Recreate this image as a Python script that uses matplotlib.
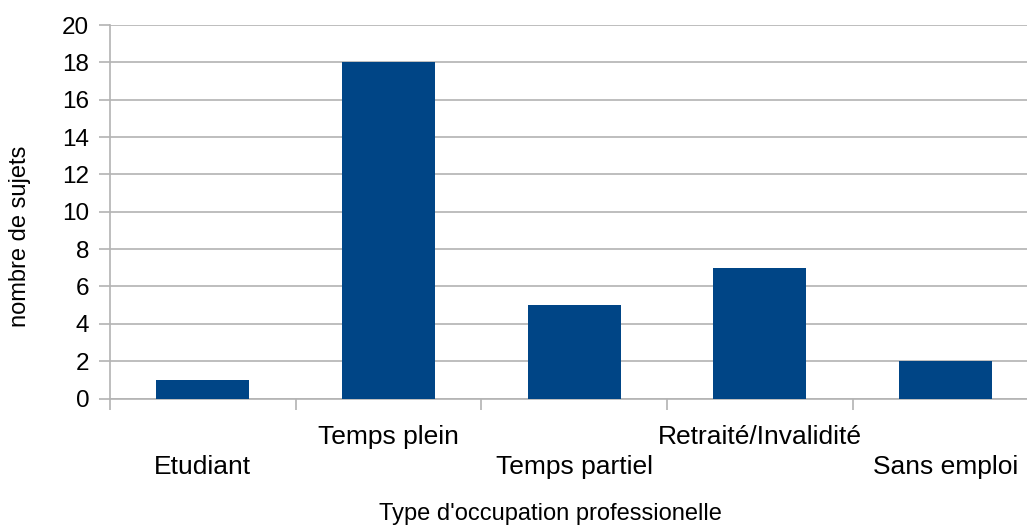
import matplotlib
matplotlib.use("Agg")
import matplotlib.pyplot as plt
import numpy as np

categories = ["Etudiant", "Temps plein", "Temps partiel", "Retraité/Invalidité", "Sans emploi"]
values = [1, 18, 5, 7, 2]
yticks = [0, 2, 4, 6, 8, 10, 12, 14, 16, 18, 20]

plt.rcParams['font.family'] = ['Liberation Sans', 'DejaVu Sans']

W, H = 1027, 525
fig = plt.figure(figsize=(W / 100, H / 100), dpi=100)
left, right, top, bottom = 110, 1038.4, 25, 398.5
ax = fig.add_axes([left / W, (H - bottom) / H, (right - left) / W, (bottom - top) / H])

grid_c = "#b3b3b3"
x = np.arange(len(categories))
ax.bar(x, values, width=0.5, color="#004586", zorder=3)
ax.set_xlim(-0.5, len(categories) - 0.5)
ax.set_ylim(0, 20)
ax.set_yticks(yticks)
ax.yaxis.grid(True, color=grid_c, linewidth=1.2, zorder=0)
ax.tick_params(axis='y', length=8, color=grid_c, width=1.2, labelsize=17.5, pad=7)

for s in ["top", "right"]:
    ax.spines[s].set_visible(False)
for s in ["left", "bottom"]:
    ax.spines[s].set_color(grid_c)
    ax.spines[s].set_linewidth(1.2)

# category boundaries as ticks, labels at centers (staggered)
ax.set_xticks(np.arange(len(categories) + 1) - 0.5, minor=True)
ax.tick_params(axis='x', which='minor', length=8, color=grid_c, width=1.2)
ax.set_xticks(x)
labels = [("\n" + c) if i % 2 == 0 else c for i, c in enumerate(categories)]
ax.set_xticklabels(labels, fontsize=19)
ax.tick_params(axis='x', which='major', length=0, pad=19)
for t in ax.get_xticklabels():
    t.set_linespacing(1.34)

ph = bottom - top
pw = right - left
ax.set_ylabel("nombre de sujets", fontsize=17)
ax.set_xlabel("Type d'occupation professionelle", fontsize=17)
ax.xaxis.set_label_coords((550 - left) / pw, -(503 - bottom) / ph)
ax.yaxis.set_label_coords(-(left - 31) / pw, (bottom - 236) / ph)

fig.savefig("out.png", dpi=100)
